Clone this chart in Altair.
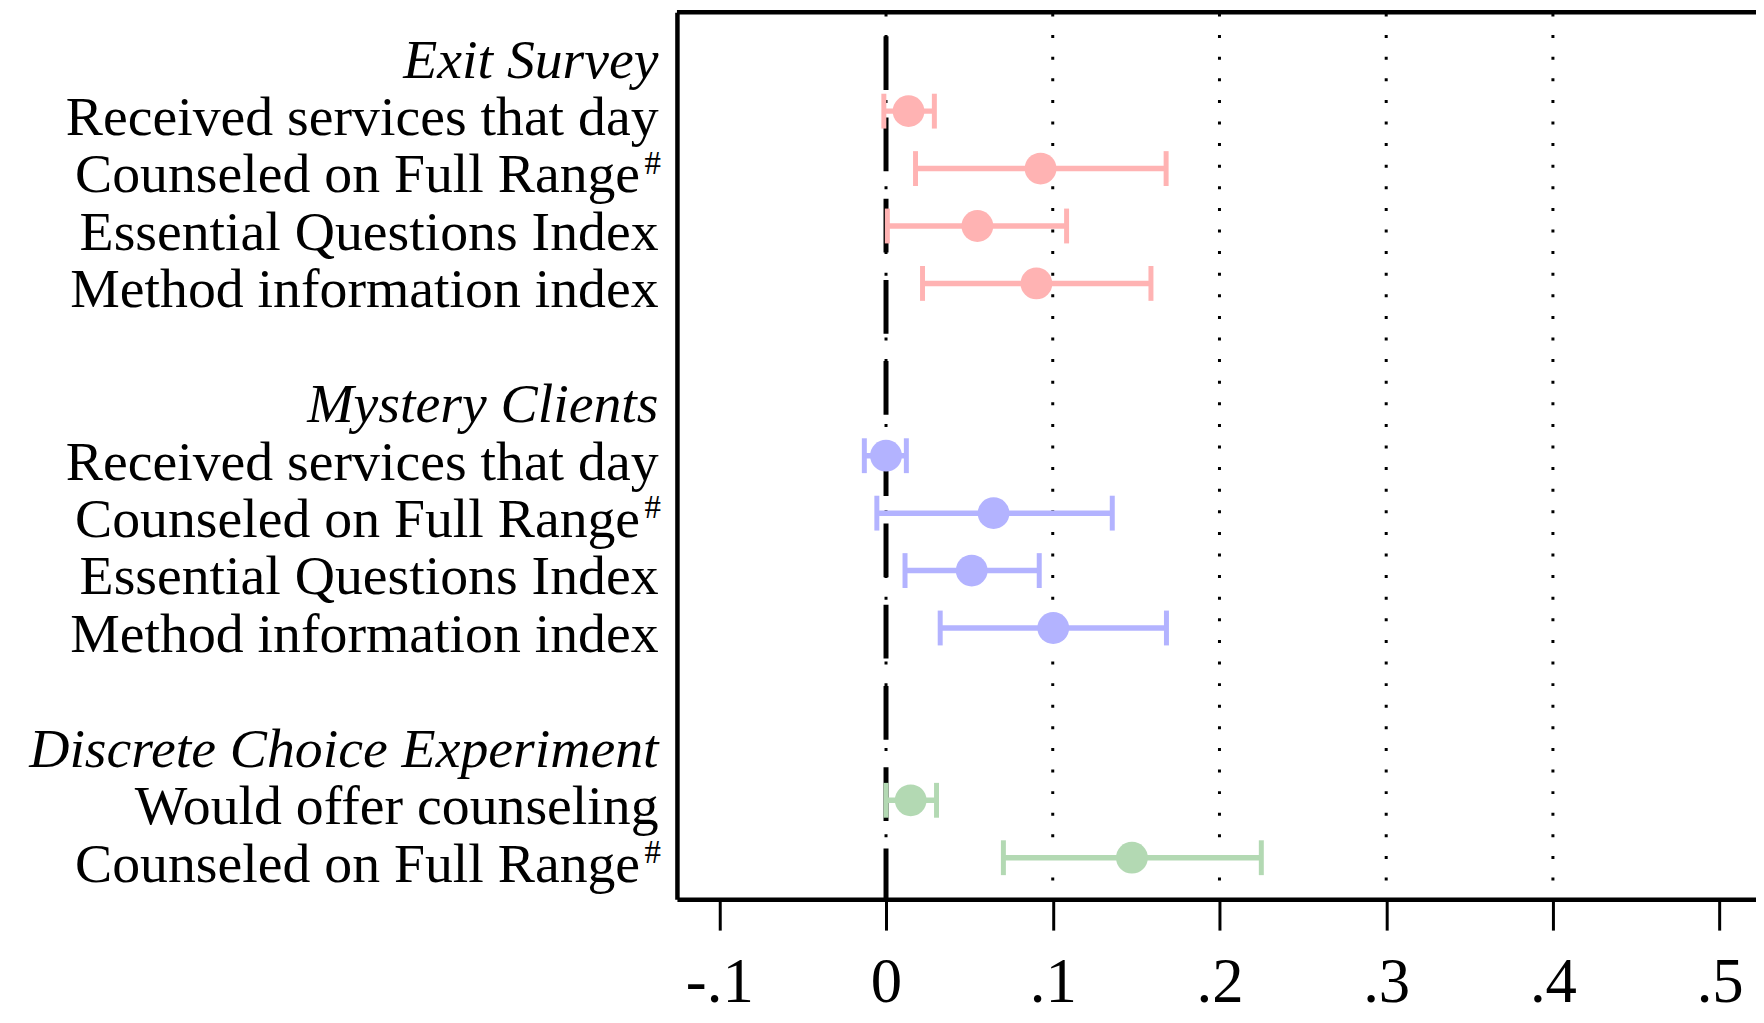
import altair as alt
import pandas as pd

FONT = "Liberation Serif"

# ---- data ----
sections = ["Exit Survey", "Mystery Clients", "Discrete Choice Experiment"]
section_rows = [0, 6, 12]

item_labels = [
    "Received services that day", "Counseled on Full Range",
    "Essential Questions Index", "Method information index",
    "Received services that day", "Counseled on Full Range",
    "Essential Questions Index", "Method information index",
    "Would offer counseling", "Counseled on Full Range",
]
item_group = ["Exit Survey"] * 4 + ["Mystery Clients"] * 4 + ["Discrete Choice Experiment"] * 2
item_rows = [1, 2, 3, 4, 7, 8, 9, 10, 13, 14]
item_hash = [False, True, False, False, False, True, False, False, False, True]
estimate = [0.0135, 0.0927, 0.0548, 0.0902, 0.0000, 0.0645, 0.0514, 0.1003, 0.0148, 0.1475]
ci_low = [-0.0013, 0.0177, 0.0008, 0.0219, -0.0130, -0.0055, 0.0114, 0.0325, 0.0000, 0.0704]
ci_high = [0.0290, 0.1680, 0.1083, 0.1589, 0.0122, 0.1357, 0.0919, 0.1682, 0.0303, 0.2251]

tick_values = [-0.1, 0.0, 0.1, 0.2, 0.3, 0.4, 0.5]
grid_values = [0.0, 0.1, 0.2, 0.3, 0.4]
zero_value = [0.0]
group_colors = ["#ffb3b3", "#b3b3ff", "#b3d9b3"]

# ---- tables ----
items = pd.DataFrame({
    "label": item_labels, "group": item_group, "row": item_rows,
    "hash": item_hash, "est": estimate, "lo": ci_low, "hi": ci_high,
})
heads = pd.DataFrame({"label": sections, "row": section_rows})
grid_df = pd.DataFrame({"v": grid_values})
zero_df = pd.DataFrame({"v": zero_value})

W, H = 1084, 891

x_scale = alt.Scale(domain=[-0.1254, 0.5218], nice=False, zero=False)
y_scale = alt.Scale(domain=[-0.721, 14.723], reverse=True, nice=False, zero=False)
color_scale = alt.Scale(domain=sections, range=group_colors)

x_axis = alt.Axis(
    values=tick_values, title=None, grid=False,
    labelExpr="datum.value == 0 ? '0' : (datum.value < 0 ? '-' : '') + replace(format(abs(datum.value), '.1f'), '0.', '.')",
)

grid = alt.Chart(grid_df).mark_rule(
    color="black", strokeWidth=3, strokeDash=[3, 18.7], strokeDashOffset=20.5
).encode(
    x=alt.X("v:Q", scale=x_scale, axis=x_axis),
    y=alt.value(0), y2=alt.value(H),
)

zero = alt.Chart(zero_df).mark_rule(
    color="black", strokeWidth=5, strokeDash=[54, 27.6], strokeDashOffset=57.6
).encode(
    x=alt.X("v:Q", scale=x_scale, axis=alt.Axis(title=None)),
    y=alt.value(0), y2=alt.value(H),
)

top_border = alt.Chart(zero_df).mark_rule(color="black", strokeWidth=4.5).encode(
    x=alt.value(0), x2=alt.value(W), y=alt.value(0)
)

base = alt.Chart(items)
y_enc = alt.Y("row:Q", scale=y_scale, axis=alt.Axis(title=None))
color_enc = alt.Color("group:N", scale=color_scale, legend=None)

bars = base.mark_rule(strokeWidth=5.5).encode(
    x=alt.X("lo:Q", scale=x_scale, axis=alt.Axis(title=None)), x2="hi:Q",
    y=y_enc, color=color_enc,
)
cap_lo = base.mark_tick(orient="vertical", size=35, thickness=5, opacity=1).encode(
    x=alt.X("lo:Q", scale=x_scale, axis=alt.Axis(title=None)), y=y_enc, color=color_enc,
)
cap_hi = base.mark_tick(orient="vertical", size=35, thickness=5, opacity=1).encode(
    x=alt.X("hi:Q", scale=x_scale, axis=alt.Axis(title=None)), y=y_enc, color=color_enc,
)
points = base.mark_circle(size=1018, opacity=1).encode(
    x=alt.X("est:Q", scale=x_scale, axis=alt.Axis(title=None)), y=y_enc, color=color_enc,
)

label_plain = base.transform_filter("!datum.hash").mark_text(
    align="right", baseline="alphabetic", dy=24, fontSize=56, font=FONT, color="black"
).encode(x=alt.value(-18.5), y=y_enc, text="label:N")

label_hash = base.transform_filter("datum.hash").mark_text(
    align="right", baseline="alphabetic", dy=24, fontSize=56, font=FONT, color="black"
).encode(x=alt.value(-37), y=y_enc, text="label:N")

hash_mark = base.transform_filter("datum.hash").transform_calculate(sup="'#'").mark_text(
    align="right", baseline="alphabetic", dy=5, fontSize=33, font=FONT, color="black"
).encode(x=alt.value(-16), y=y_enc, text="sup:N")

head_text = alt.Chart(heads).mark_text(
    align="right", baseline="alphabetic", dy=24, fontSize=56, font=FONT,
    fontStyle="italic", color="black"
).encode(x=alt.value(-18.5), y=alt.Y("row:Q", scale=y_scale, axis=alt.Axis(title=None)), text="label:N")

chart = alt.layer(
    grid, zero, top_border, bars, cap_lo, cap_hi, points,
    label_plain, label_hash, hash_mark, head_text,
).properties(
    width=W, height=H,
    autosize=alt.AutoSizeParams(type="none"),
    padding={"left": 672, "top": 2, "right": 0, "bottom": 121},
    background="white",
).configure_view(
    stroke=None
).configure_axisX(
    domainColor="black", domainWidth=4.5, tickColor="black", tickWidth=3, tickSize=31,
    labelFont=FONT, labelFontSize=63, labelColor="black", labelPadding=72,
    labelBaseline="alphabetic",
    labelFlush=False, labelOverlap=False, labelBound=False, grid=False,
).configure_axisY(
    labels=False, ticks=False, grid=False, domainColor="black", domainWidth=4.5,
)

chart.save("out.html", embed_options={"renderer": "svg", "actions": False})
